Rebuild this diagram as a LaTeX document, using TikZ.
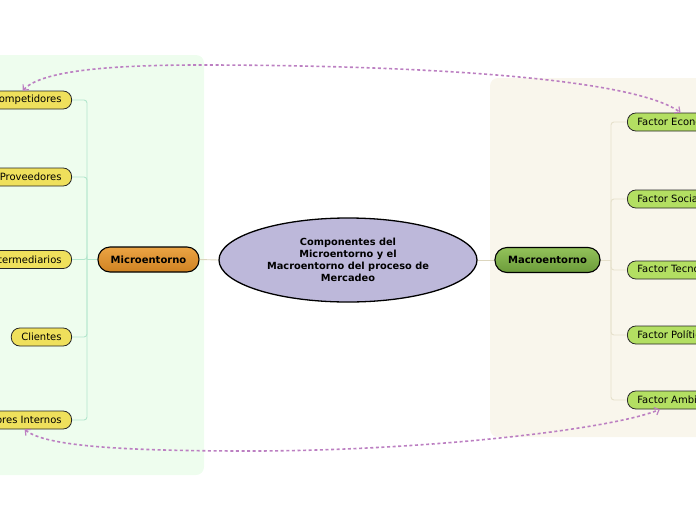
\documentclass[tikz,border=0pt]{standalone}
\usepackage{fontspec}
\setmainfont{DejaVu Sans}
\usetikzlibrary{arrows.meta,shapes.geometric}
\definecolor{leftbg}{HTML}{EEFDEE}
\definecolor{rightbg}{HTML}{F9F6EC}
\definecolor{lav}{HTML}{BDB8DA}
\definecolor{ltree}{HTML}{B3E6CC}
\definecolor{rtree}{HTML}{E6E1CC}
\definecolor{cline}{HTML}{DCD6BE}
\definecolor{ylw}{HTML}{EFE05C}
\definecolor{grn}{HTML}{B3DF62}
\definecolor{orgtop}{HTML}{EBA444}
\definecolor{orgbot}{HTML}{CF8222}
\definecolor{grntop}{HTML}{93C25A}
\definecolor{grnbot}{HTML}{6B9B3A}
\definecolor{purp}{HTML}{BC7FC2}
\tikzset{
  child/.style={draw=black!85, line width=0.8pt, rounded corners=8.5pt, minimum height=18pt,
    inner xsep=10pt, inner ysep=0pt, font=\fontsize{10}{12}\selectfont},
  ychild/.style={child, fill=ylw},
  gchild/.style={child, fill=grn},
  parent/.style={draw=black, line width=1.1pt, rounded corners=12pt, minimum height=25pt,
    minimum width=101pt, inner ysep=0pt, font=\bfseries\fontsize{10}{12}\selectfont},
  lbranch/.style={draw=ltree, line width=0.9pt, rounded corners=3pt},
  rbranch/.style={draw=rtree, line width=0.9pt, rounded corners=3pt},
  centerline/.style={draw=cline, line width=0.9pt},
  rel/.style={draw=purp, line width=1.6pt, dash pattern=on 3pt off 2.6pt,
    {Straight Barb[length=4pt,width=8pt,line width=1.2pt]}-{Straight Barb[length=4pt,width=8pt,line width=1.2pt]}}
}
\begin{document}
\begin{tikzpicture}[x=1pt,y=-1pt]
\useasboundingbox (0,0) rectangle (696,520);
\clip (0,0) rectangle (696,520);
% backgrounds
\fill[leftbg, rounded corners=8pt] (-30,55) rectangle (204,475);
\fill[rightbg, rounded corners=8pt] (490,78) rectangle (740,437);
% central topic
\node[ellipse, draw=black, line width=1.3pt, fill=lav, minimum width=258pt, minimum height=84pt,
  inner sep=0pt, align=center, font=\bfseries\fontsize{9.8}{12}\selectfont] (c) at (348,260)
  {Componentes del\\Microentorno y el\\Macroentorno del proceso de\\Mercadeo};
% main topics
\node[parent, top color=orgtop, bottom color=orgbot] (mi) at (148.5,259.5) {Microentorno};
\node[parent, top color=grntop, bottom color=grnbot, minimum width=105pt] (ma) at (547.5,260) {Macroentorno};
% left children
\node[ychild, anchor=east] (comp) at (72,100) {Competidores};
\node[ychild, anchor=east] (prov) at (72,177) {Proveedores};
\node[ychild, anchor=east] (inte) at (72,259.5) {Intermediarios};
\node[ychild, anchor=east] (clie) at (72,337) {Clientes};
\node[ychild, anchor=east] (fint) at (72,420) {Factores Internos};
% right children
\node[gchild, anchor=west] (econ) at (627,122) {Factor Económico};
\node[gchild, anchor=west] (soci) at (627,199) {Factor Social};
\node[gchild, anchor=west] (tecn) at (627,270) {Factor Tecnológico};
\node[gchild, anchor=west] (poli) at (627,335) {Factor Político};
\node[gchild, anchor=west] (ambi) at (627,400) {Factor Ambiental};
% connectors
\coordinate (lt) at (87,259.5);
\coordinate (rt) at (611,260);
\draw[centerline] (c.west) -- (mi.east);
\draw[centerline] (c.east) -- (ma.west);
\draw[lbranch] (mi.west) -- (lt);
\foreach \n in {comp,prov,inte,clie,fint} \draw[lbranch] (\n.east) -| (lt);
\draw[rbranch] (ma.east) -- (rt);
\foreach \n in {econ,soci,tecn,poli,ambi} \draw[rbranch] (\n.west) -| (rt);
% relationships
\coordinate (t1) at ([xshift=-4pt]comp.north);
\coordinate (t2) at ([xshift=-1pt]econ.north);
\coordinate (b1) at ([xshift=6pt]fint.south);
\coordinate (b2) at ([xshift=-20pt]ambi.south);
\draw[rel] (t1) .. controls (40,72) and (100,65) .. (200,65)
  .. controls (400,65) and (630,76) .. (t2);
\draw[rel] (b1) .. controls (45,446) and (120,451) .. (250,451)
  .. controls (420,451) and (610,430) .. (b2);
\end{tikzpicture}
\end{document}
